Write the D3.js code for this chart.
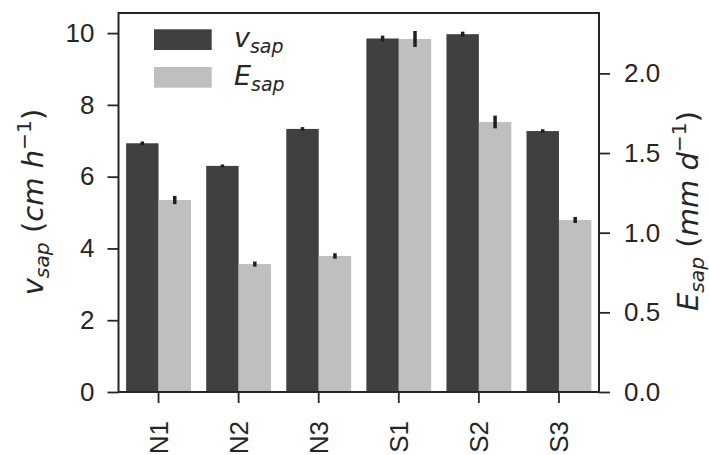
<!DOCTYPE html>
<html>
<head>
<meta charset="utf-8">
<script src="https://cdn.jsdelivr.net/npm/d3@7"></script>
<style>
  body { margin: 0; background: #fff; }
  text { fill: #262626; }
</style>
</head>
<body>
<div id="chart"></div>
<script>
// values
const sites = ["N1", "N2", "N3", "S1", "S2", "S3"];
const vsap = [6.93, 6.30, 7.33, 9.85, 9.97, 7.27];
const vsapErr = [0.05, 0.04, 0.05, 0.08, 0.07, 0.05];
const esap = [1.205, 0.803, 0.854, 2.216, 1.695, 1.08];
const esapErr = [0.026, 0.016, 0.017, 0.05, 0.04, 0.019];
const vTicks = [0, 2, 4, 6, 8, 10];
const eTicks = [0, 0.5, 1.0, 1.5, 2.0];

const width = 709, height = 455;
const margin = {top: 13, right: 110, bottom: 63, left: 118.5};
const dark = "#404040", light = "#bfbfbf", ink = "#262626";
const mathFont = "'DejaVu Sans', sans-serif";
const tickFont = "'Liberation Sans', Arial, sans-serif";

let svg = d3.select("#chart").append("svg")
  .attr("width", width)
  .attr("height", height);

let x = d3.scaleBand()
  .domain(sites)
  .range([margin.left, width - margin.right])
  .paddingInner(0.19)
  .paddingOuter(0.095);

let yL = d3.scaleLinear()
  .domain([0, 10.56])
  .range([height - margin.bottom, margin.top]);

let yR = d3.scaleLinear()
  .domain([0, 2.379])
  .range([height - margin.bottom, margin.top]);

let bw = x.bandwidth() / 2;

// bars
svg.append("g").selectAll("rect").data(sites).enter().append("rect")
  .attr("x", d => x(d))
  .attr("y", (d, i) => yL(vsap[i]))
  .attr("width", bw)
  .attr("height", (d, i) => yL(0) - yL(vsap[i]))
  .attr("fill", dark);

svg.append("g").selectAll("rect").data(sites).enter().append("rect")
  .attr("x", d => x(d) + bw)
  .attr("y", (d, i) => yR(esap[i]))
  .attr("width", bw)
  .attr("height", (d, i) => yR(0) - yR(esap[i]))
  .attr("fill", light);

// error bars
svg.append("g").selectAll("line").data(sites).enter().append("line")
  .attr("x1", d => x(d) + bw / 2)
  .attr("x2", d => x(d) + bw / 2)
  .attr("y1", (d, i) => yL(vsap[i] - vsapErr[i]))
  .attr("y2", (d, i) => yL(vsap[i] + vsapErr[i]))
  .attr("stroke", "#1f1f1f")
  .attr("stroke-width", 3.5);

svg.append("g").selectAll("line").data(sites).enter().append("line")
  .attr("x1", d => x(d) + bw * 1.5)
  .attr("x2", d => x(d) + bw * 1.5)
  .attr("y1", (d, i) => yR(esap[i] - esapErr[i]))
  .attr("y2", (d, i) => yR(esap[i] + esapErr[i]))
  .attr("stroke", "#1f1f1f")
  .attr("stroke-width", 3.5);

// axes
let xAxis = d3.axisBottom(x).tickSize(11).tickPadding(8);
let leftAxis = d3.axisLeft(yL).tickValues(vTicks).tickSize(11).tickPadding(13)
  .tickFormat(d3.format("d"));
let rightAxis = d3.axisRight(yR).tickValues(eTicks).tickSize(11).tickPadding(14)
  .tickFormat(d3.format(".1f"));

function styleAxis(g) {
  g.select(".domain").remove();
  g.selectAll(".tick line").attr("stroke", ink).attr("stroke-width", 1.8);
  g.selectAll(".tick text")
    .attr("fill", ink)
    .style("font-family", tickFont)
    .style("font-size", "26px");
}

svg.append("g")
  .attr("transform", "translate(0," + (height - margin.bottom) + ")")
  .call(xAxis)
  .call(styleAxis)
  .selectAll(".tick text")
  .attr("transform", "rotate(-90)")
  .attr("text-anchor", "end")
  .attr("dy", "0.35em")
  .attr("x", -29)
  .attr("y", 0);

svg.append("g")
  .attr("transform", "translate(" + margin.left + ",0)")
  .call(leftAxis)
  .call(styleAxis);

svg.append("g")
  .attr("transform", "translate(" + (width - margin.right) + ",0)")
  .call(rightAxis)
  .call(styleAxis);

// frame
svg.append("rect")
  .attr("x", margin.left)
  .attr("y", margin.top)
  .attr("width", width - margin.right - margin.left)
  .attr("height", height - margin.bottom - margin.top)
  .attr("fill", "none")
  .attr("stroke", ink)
  .attr("stroke-width", 2);

// mathtext-like labels: parts = [text, italic, shift] (shift: 0 normal, -1 sub, 1 sup)
function mathText(sel, parts, size) {
  let t = sel.append("text")
    .style("font-family", mathFont)
    .style("font-size", size + "px");
  let level = 0;
  parts.forEach(p => {
    let shift = p[2] || 0;
    let fs = shift === 0 ? size : size * 0.7;
    let offset = shift === -1 ? size * 0.22 : shift === 1 ? -size * 0.42 : 0;
    t.append("tspan")
      .text(p[0])
      .style("font-style", p[1] ? "italic" : "normal")
      .style("font-size", fs + "px")
      .attr("dy", offset - level);
    level = offset;
  });
  return t;
}

const vLabel = [["v", 1], ["sap", 1, -1], [" (", 0], ["cm", 1], [" ", 0], ["h", 1], ["\u22121", 0, 1], [")", 0]];
const eLabel = [["E", 1], ["sap", 1, -1], [" (", 0], ["mm", 1], [" ", 0], ["d", 1], ["\u22121", 0, 1], [")", 0]];

mathText(svg.append("g").attr("transform", "translate(43,202) rotate(-90)"), vLabel, 29)
  .attr("text-anchor", "middle");
mathText(svg.append("g").attr("transform", "translate(698,211) rotate(-90)"), eLabel, 29)
  .attr("text-anchor", "middle");

// legend
let legend = svg.append("g");
[["v", dark], ["E", light]].forEach((item, i) => {
  let yTop = 29.3 + i * 37.7;
  legend.append("rect")
    .attr("x", 154)
    .attr("y", yTop)
    .attr("width", 57.7)
    .attr("height", 20.7)
    .attr("fill", item[1]);
  mathText(legend.append("g").attr("transform", "translate(234," + (yTop + 18) + ")"),
    [[item[0], 1], ["sap", 1, -1]], 27);
});
</script>
</body>
</html>
